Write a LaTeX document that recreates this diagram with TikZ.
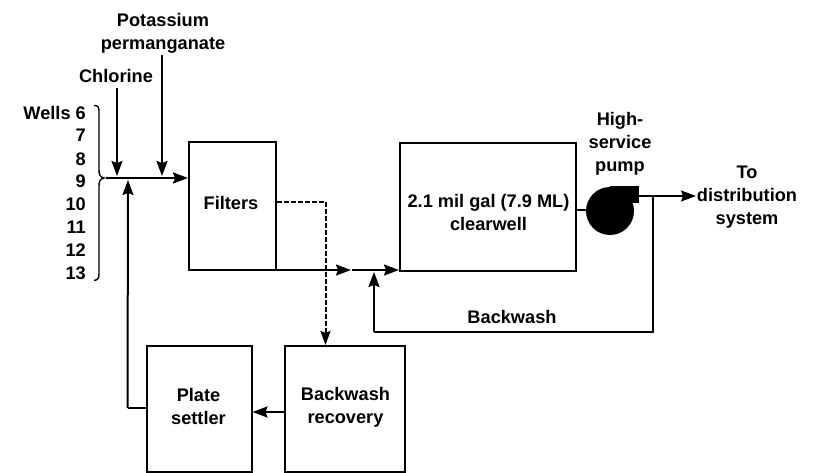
\documentclass[tikz,border=0pt]{standalone}
\usepackage{fontspec}
\setmainfont{Liberation Sans}
\usetikzlibrary{arrows.meta}
\tikzset{
 px/.style={x=1pt,y=-1pt},
 box/.style={draw,line width=2pt,inner sep=0pt},
 lbl/.style={font=\fontsize{18.2}{23}\selectfont\bfseries,align=center,inner sep=0pt},
 flow/.style={line width=2pt,-{Stealth[length=15pt,width=11pt,inset=2pt]}},
 plainline/.style={line width=2pt},
 dash flow/.style={line width=2pt,dash pattern=on 4.5pt off 2.5pt,-{Stealth[length=14pt,width=10pt,inset=2pt]}}
}
\begin{document}
\begin{tikzpicture}[px]
\useasboundingbox (0,0) rectangle (837,473);
\path[fill=white] (0,0) rectangle (837,473);
\node[box,minimum width=87pt,minimum height=127pt] (filters) at (232.5,206) {};
\node[lbl] (filterst) at (231,202.5) {Filters};
\node[box,minimum width=176pt,minimum height=127pt] (well) at (488,207) {};
\node[lbl] (wellt) at (488.5,212) {2.1 mil gal (7.9 ML)\\clearwell};
\node[box,minimum width=105pt,minimum height=126pt] (plate) at (199,408.5) {};
\node[lbl] (platet) at (198.5,406) {Plate\\settler};
\node[box,minimum width=120pt,minimum height=126pt] (recovery) at (345,409) {};
\node[lbl] (recoveryt) at (345.5,407.5) {Backwash\\recovery};
\node[lbl] (kmno) at (163,33.5) {Potassium\\permanganate};
\node[lbl] (cl) at (116,76) {Chlorine};
\node[lbl,anchor=east] (w6) at (86,113) {Wells 6};
\node[lbl,anchor=east] (w7) at (86,135) {7};
\node[lbl,anchor=east] (w8) at (86,159) {8};
\node[lbl,anchor=east] (w9) at (86,181) {9};
\node[lbl,anchor=east] (w10) at (86,204) {10};
\node[lbl,anchor=east] (w11) at (86,227) {11};
\node[lbl,anchor=east] (w12) at (86,250) {12};
\node[lbl,anchor=east] (w13) at (86,273) {13};
\node[lbl] (hs) at (620,144) {High-\\service\\pump};
\node[lbl] (to) at (747,197) {To\\distribution\\system};
\node[lbl] (bw) at (512,317) {Backwash};
\coordinate (brace) at (106,178);
\coordinate (j1) at (117,176);
\coordinate (j2) at (162,176);
\coordinate (j3) at (128,180);
\coordinate (fo) at (277,270);
\coordinate (j4) at (374,272);
\coordinate (j5) at (351,270);
\coordinate (j6) at (352,270);
\coordinate (bwr) at (653,332);
\coordinate (bwl) at (374,332);
\coordinate (po) at (653,196);
\coordinate (fd) at (325.5,201.5);
\draw[line width=1.4pt] (94,105.5) .. controls (98,105.5) and (99,107) .. (99,110) -- (99,170) .. controls (99,175) and (100,177) .. (104,178) .. controls (100,179) and (99,181) .. (99,186) -- (99,274) .. controls (99,278) and (98,280) .. (94,280.5);
\draw[flow] (brace) -- (filters.west |- brace);
\draw[flow] (117,88) -- (j1);
\draw[flow] (162,55) -- (j2);
\draw[plainline] (189,270) -- (fo);
\draw[flow] (fo) -- (j5);
\draw[flow] (j6) -- (well.west |- j6);
\draw[plainline] (well.east |- 0,210) -- (588,210);
\fill (610,211) circle (24pt);
\fill (610,186) rectangle (639,203);
\draw[flow] (638,196) -- (696,196);
\draw[plainline] (po) -- (bwr) -- (bwl);
\draw[flow] (bwl) -- (j4);
\draw[dash flow] (filters.east |- fd) -- (fd) -- (recovery.north -| fd);
\draw[flow] (recovery.west |- 0,412) -- (plate.east |- 0,412);
\draw[plainline] (plate.west |- 0,408) -- (127.5,408);
\draw[flow] (127.5,408) -- (j3);
\end{tikzpicture}
\end{document}
